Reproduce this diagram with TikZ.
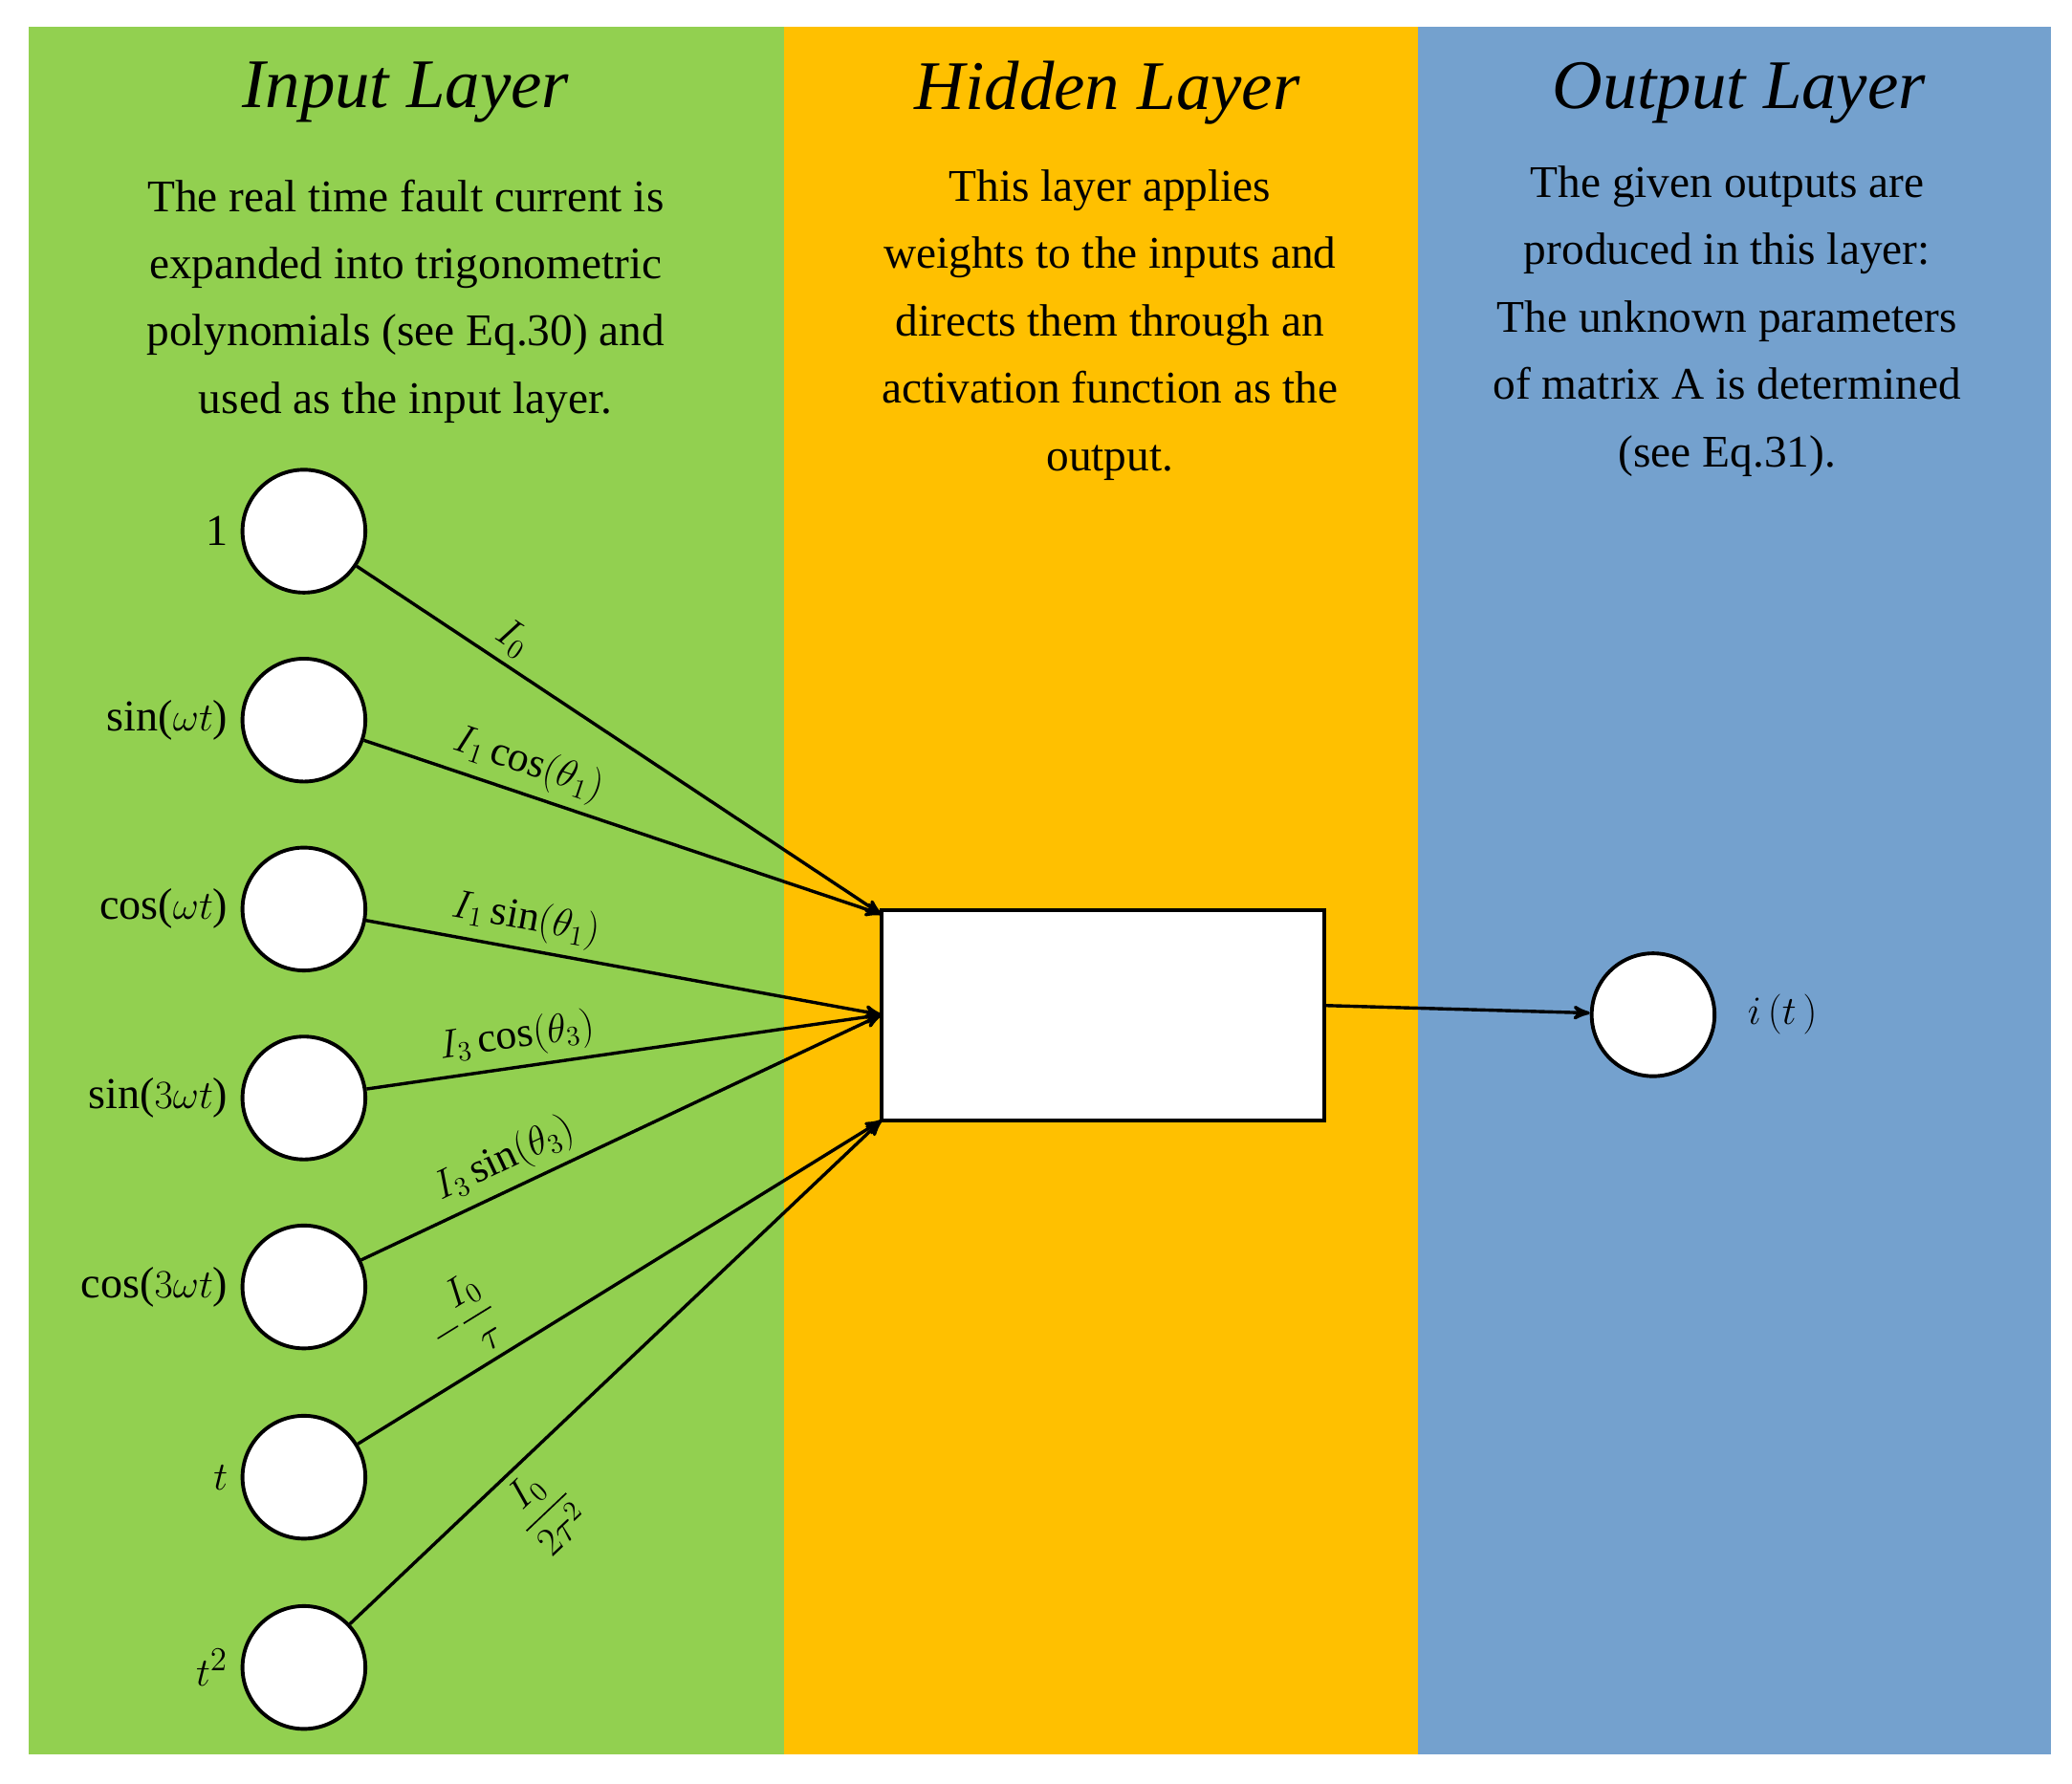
\documentclass[tikz,border=0pt]{standalone}
\usepackage{amsmath}
\usepackage{fontspec}
\setmainfont{Liberation Serif}
\usetikzlibrary{positioning}
\usetikzlibrary{shapes, arrows}
\definecolor{ingreen}{RGB}{146,208,80}
\definecolor{hidyellow}{RGB}{255,192,0}
\definecolor{outblue}{RGB}{116,161,206}

\begin{document}
\begin{tikzpicture}[x=0.02cm, y=-0.02cm]
    \tikzstyle{neuron} = [circle, draw, line width=1.6pt, fill=white, minimum size=1.86cm, inner sep=0pt]
    \tikzstyle{block} = [rectangle, draw, line width=1.6pt, fill=white, minimum width=6.7cm, minimum height=3.18cm]
    \tikzstyle{line} = [draw, line width=1.4pt, -stealth']
    \tikzstyle{title} = [font=\fontsize{30}{34}\selectfont\itshape]
    \tikzstyle{desc} = [font=\fontsize{19.5}{29}\selectfont, align=center]
    \tikzstyle{inlabel} = [font=\fontsize{19}{22}\selectfont, left=2pt]
    \tikzstyle{weight} = [font=\fontsize{18}{20}\selectfont, sloped, above]
    \useasboundingbox (0,0) rectangle (1568,1350);
    \fill[white] (0,0) rectangle (1568,1350);
    \fill[ingreen] (22,20) rectangle (593,1328);
    \fill[hidyellow] (593,20) rectangle (1073,1328);
    \fill[outblue] (1073,20) rectangle (1552,1328);
    \node [title] (intitle) at (307,70) {Input Layer};
    \node [title] (hidtitle) at (838,70) {Hidden Layer};
    \node [title] (outtitle) at (1316,70) {Output Layer};
    \node [desc] (indesc) at (307,228) {The real time fault current is\\expanded into trigonometric\\polynomials (see Eq.30) and\\used as the input layer.};
    \node [desc] (hiddesc) at (840,246) {This layer applies\\weights to the inputs and\\directs them through an\\activation function as the\\output.};
    \node [desc] (outdesc) at (1307,243) {The given outputs are\\produced in this layer:\\The unknown parameters\\of matrix A is determined\\(see Eq.31).};
    % input neurons
    \node [neuron] (x1) at (230,402) {};
    \node [neuron] (x2) at (230,545) {};
    \node [neuron] (x3) at (230,688) {};
    \node [neuron] (x4) at (230,831) {};
    \node [neuron] (x5) at (230,974) {};
    \node [neuron] (x6) at (230,1118) {};
    \node [neuron] (x7) at (230,1262) {};
    \node [inlabel] at (x1.west) {1};
    \node [inlabel] at (x2.west) {sin($\omega t$)};
    \node [inlabel] at (x3.west) {cos($\omega t$)};
    \node [inlabel] at (x4.west) {sin($3\omega t$)};
    \node [inlabel] at (x5.west) {cos($3\omega t$)};
    \node [inlabel] at (x6.west) {$t$};
    \node [inlabel] at (x7.west) {$t^2$};
    % hidden and output
    \node [block] (hidden) at (834.5,768.5) {};
    \coordinate (htop) at (667,692);
    \coordinate (hmid) at (667,768);
    \coordinate (hbot) at (667,848);
    \node [neuron] (out) at (1251,768) {};
    \node [font=\fontsize{19}{22}\selectfont, right=10pt of out] {$i\,(t\,)$};
    \path [line] (x1) -- node [weight, pos=0.27] {$I_0$} (htop);
    \path [line] (x2) -- node [weight, pos=0.3] {$I_1\cos(\theta_1)$} (htop);
    \path [line] (x3) -- node [weight, pos=0.3] {$I_1\sin(\theta_1)$} (hmid);
    \path [line] (x4) -- node [weight, pos=0.3] {$I_3\cos(\theta_3)$} (hmid);
    \path [line] (x5) -- node [weight, pos=0.3] {$I_3\sin(\theta_3)$} (hmid);
    \path [line] (x6) -- node [weight, pos=0.25] {$-\dfrac{I_0}{\tau}$} (hbot);
    \path [line] (x7) -- node [weight, below, pos=0.3] {$\dfrac{I_0}{2\tau^2}$} (hbot);
    \path [line] (hidden.east |- 0,761) -- (out);
\end{tikzpicture}
\end{document}
